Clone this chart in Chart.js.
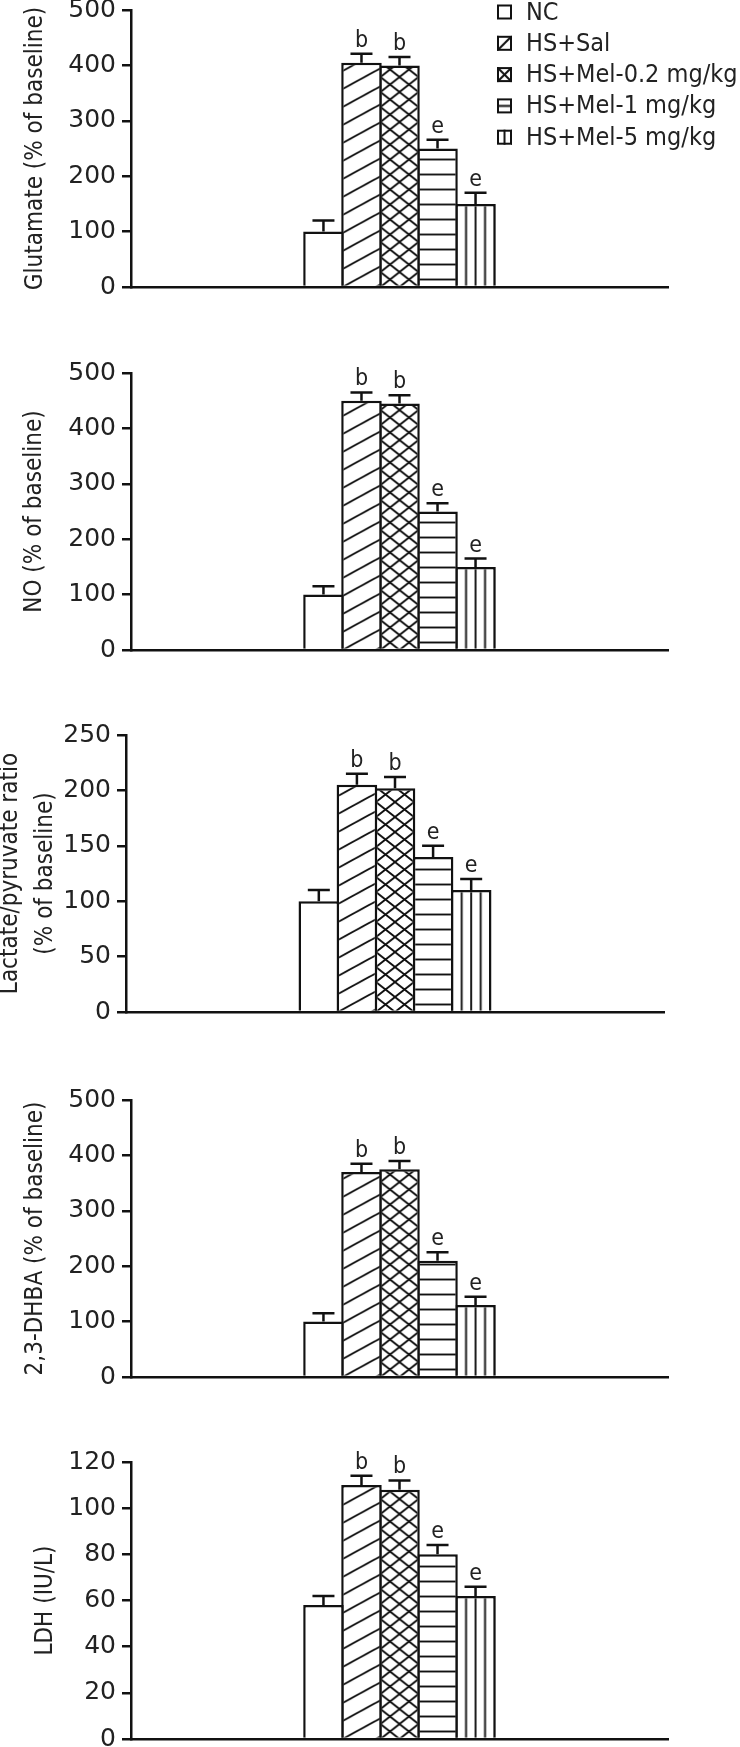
<!DOCTYPE html>
<html><head><meta charset="utf-8">
<script src="https://cdn.jsdelivr.net/npm/chart.js@4.4.1/dist/chart.umd.min.js"></script>
<style>
html,body{margin:0;padding:0;background:#fff;}
#wrap{position:relative;width:740px;height:1747px;overflow:hidden;background:#fff;}
canvas{position:absolute;left:0;}
</style></head><body><div id="wrap"></div>
<script>
// ---------- data ----------
const groups = ['NC', 'HS+Sal', 'HS+Mel-0.2 mg/kg', 'HS+Mel-1 mg/kg', 'HS+Mel-5 mg/kg'];
const sigLetters = ['', 'b', 'b', 'e', 'e'];

const glutamate    = [100, 405, 400, 250, 150];
const glutamateErr = [20, 16, 15, 16, 20];
const nitricOxide    = [100, 450, 445, 250, 150];
const nitricOxideErr = [15, 15, 15, 15, 15];
const lactatePyr    = [100, 205, 202, 140, 110];
const lactatePyrErr = [10, 10, 10, 10, 10];
const dhba    = [100, 370, 375, 210, 130];
const dhbaErr = [15, 15, 15, 15, 15];
const ldh    = [58, 110, 108, 80, 62];
const ldhErr = [4, 4, 4, 4, 4];

const axisTitles = [
  'Glutamate (% of baseline)',
  'NO (% of baseline)',
  ['Lactate/pyruvate ratio', '(% of baseline)'],
  '2,3-DHBA (% of baseline)',
  'LDH (IU/L)'
];
const axisMax  = [500, 500, 250, 500, 120];
const axisStep = [100, 100, 50, 100, 20];

// ---------- styling / layout ----------
const TEXT_FONT = "'DejaVu Sans Condensed', 'DejaVu Sans', sans-serif";
const TICK_FONT = "'DejaVu Sans', sans-serif";
const INK = '#111', TEXT = '#222';
const BAR_PCT = 1.066, CAT_PCT = 0.354;
const kinds = ['none', 'diag', 'cross', 'horiz', 'vert'];

// areaTop = y of the top tick on the page
const panels = [
  {values: glutamate,   errs: glutamateErr,   areaTop: 10,   bottomSpace: 76, left: 131, right: 668, titleX: 36, legend: true},
  {values: nitricOxide, errs: nitricOxideErr, areaTop: 373,  bottomSpace: 76, left: 131, right: 668, titleX: 35},
  {values: lactatePyr,  errs: lactatePyrErr,  areaTop: 735,  bottomSpace: 76, left: 126, right: 664, titleX: 11, lineH: 35},
  {values: dhba,        errs: dhbaErr,        areaTop: 1100, bottomSpace: 76, left: 131, right: 668, titleX: 36},
  {values: ldh,         errs: ldhErr,         areaTop: 1462, bottomSpace: 8,  left: 131, right: 668, titleX: 46}
];
const AREA_H = 277;

function makePattern(kind, w, h, lw) {
  const c = document.createElement('canvas');
  c.width = w; c.height = h;
  const g = c.getContext('2d');
  g.fillStyle = '#fff'; g.fillRect(0, 0, w, h);
  g.strokeStyle = INK; g.fillStyle = INK; g.lineWidth = lw;
  if (kind === 'diag' || kind === 'cross') {
    g.beginPath();
    for (let n = -1; n <= 1; n++) { g.moveTo(-w, (2 + n) * h); g.lineTo(2 * w, (n - 1) * h); }
    if (kind === 'cross') for (let n = -1; n <= 1; n++) { g.moveTo(-w, (n - 1) * h); g.lineTo(2 * w, (n + 2) * h); }
    g.stroke();
  } else if (kind === 'horiz') {
    g.fillRect(0, h / 2 - lw / 2, w, lw);
  } else if (kind === 'vert') {
    const n = Math.round(w / 9.5);
    for (let i = 1; i <= n; i++) g.fillRect(i * w / n - lw / 2, 0, lw, h);
  }
  return g.createPattern(c, 'repeat');
}
function barPatterns() {
  return {
    none: '#fff',
    diag: makePattern('diag', 33, 18, 1.9),
    cross: makePattern('cross', 19, 15, 1.9),
    horiz: makePattern('horiz', 38, 15, 1.9),
    vert: makePattern('vert', 38, 38, 1.9)
  };
}
function legendPatterns() {
  return {
    none: '#fff',
    diag: makePattern('diag', 15, 15, 2),
    cross: makePattern('cross', 15, 15, 2),
    horiz: makePattern('horiz', 15, 15, 2),
    vert: makePattern('vert', 15, 15, 2)
  };
}

const patternAnchor = {
  id: 'patternAnchor',
  beforeDatasetsDraw(chart) {
    const base = chart.scales.y.getPixelForValue(0);
    chart.data.datasets.forEach((ds, i) => {
      const el = chart.getDatasetMeta(i).data[0];
      const p = ds.backgroundColor;
      if (el && p && typeof p.setTransform === 'function') {
        const slot = el.width / BAR_PCT;
        p.setTransform(new DOMMatrix([1, 0, 0, 1, el.x - slot / 2, base]));
      }
    });
  }
};

const errorBars = {
  id: 'errorBars',
  afterDatasetsDraw(chart) {
    const {ctx} = chart, y = chart.scales.y;
    ctx.save();
    ctx.strokeStyle = INK; ctx.lineWidth = 2.5; ctx.lineCap = 'butt';
    ctx.fillStyle = TEXT;
    ctx.font = "23px " + TEXT_FONT;
    ctx.textAlign = 'center'; ctx.textBaseline = 'alphabetic';
    chart.data.datasets.forEach((ds, i) => {
      const el = chart.getDatasetMeta(i).data[0];
      const v = ds.data[0], e = ds.err[0];
      const yTop = y.getPixelForValue(v), yE = y.getPixelForValue(v + e);
      ctx.beginPath();
      ctx.moveTo(el.x, yTop); ctx.lineTo(el.x, yE);
      ctx.moveTo(el.x - 11, yE); ctx.lineTo(el.x + 11, yE);
      ctx.stroke();
      if (ds.sig) ctx.fillText(ds.sig, el.x, yE - 7);
    });
    ctx.restore();
  }
};

const boxLegend = {
  id: 'boxLegend',
  afterDraw(chart, args, opts) {
    if (!opts.show) return;
    const {ctx} = chart;
    const pats = legendPatterns();
    const oy = opts.offsetY;
    ctx.save();
    ctx.font = "25px " + TEXT_FONT;
    ctx.textBaseline = 'middle'; ctx.textAlign = 'left';
    chart.data.datasets.forEach((ds, i) => {
      const cy = oy + 12 + i * 31.3, bx = 497, by = cy - 7.5;
      const p = pats[ds.kind];
      if (p && typeof p.setTransform === 'function') p.setTransform(new DOMMatrix([1, 0, 0, 1, bx, by]));
      ctx.fillStyle = p;
      ctx.fillRect(bx, by, 15, 15);
      ctx.strokeStyle = INK; ctx.lineWidth = 2;
      ctx.strokeRect(bx + 1, by + 1, 13, 13);
      ctx.fillStyle = TEXT;
      ctx.fillText(ds.label, 526, cy + 1);
    });
    ctx.restore();
  }
};

const wrap = document.getElementById('wrap');
panels.forEach((pn, k) => {
  const canvasTop = Math.max(0, pn.areaTop - 30);
  const padTop = pn.areaTop - canvasTop;
  const height = padTop + AREA_H + pn.bottomSpace;
  const cv = document.createElement('canvas');
  cv.width = 740; cv.height = height;
  cv.style.top = canvasTop + 'px'; cv.style.width = '740px'; cv.style.height = height + 'px';
  wrap.appendChild(cv);
  const pats = barPatterns();
  const lineH = pn.lineH || 28.8;
  const datasets = groups.map((g, i) => ({
    label: g,
    data: [pn.values[i]],
    err: [pn.errs[i]],
    sig: sigLetters[i],
    kind: kinds[i],
    backgroundColor: pats[kinds[i]],
    borderColor: INK,
    borderWidth: {top: 2.5, left: 2.5, right: 2.5, bottom: 0},
    borderSkipped: false,
    barPercentage: BAR_PCT,
    categoryPercentage: CAT_PCT
  }));
  new Chart(cv, {
    type: 'bar',
    data: {labels: [''], datasets},
    plugins: [patternAnchor, errorBars, boxLegend],
    options: {
      responsive: false, animation: false, devicePixelRatio: 1,
      layout: {padding: {left: 0, right: 740 - pn.right, top: padTop, bottom: pn.bottomSpace}},
      plugins: {legend: {display: false}, tooltip: {enabled: false},
                boxLegend: {show: !!pn.legend, offsetY: -canvasTop}},
      scales: {
        x: {
          grid: {display: false},
          ticks: {display: false},
          border: {display: true, color: INK, width: 2.5},
          afterFit(s) { s.height = 0; s.paddingLeft = 0; s.paddingRight = 0; }
        },
        y: {
          min: 0, max: axisMax[k],
          ticks: {stepSize: axisStep[k], padding: 6, color: TEXT, font: {family: TICK_FONT, size: 25}},
          grid: {display: true, drawOnChartArea: false, drawTicks: true, tickLength: 9, color: INK, lineWidth: 2.5},
          border: {display: true, color: INK, width: 2.5},
          title: {
            display: true, text: axisTitles[k], color: TEXT,
            font: {family: TEXT_FONT, size: 24, lineHeight: lineH / 24},
            padding: {top: pn.titleX - lineH / 2, bottom: 0}
          },
          afterFit(s) { s.width = pn.left; s.paddingTop = 0; s.paddingBottom = 0; }
        }
      }
    }
  });
});
</script></body></html>
